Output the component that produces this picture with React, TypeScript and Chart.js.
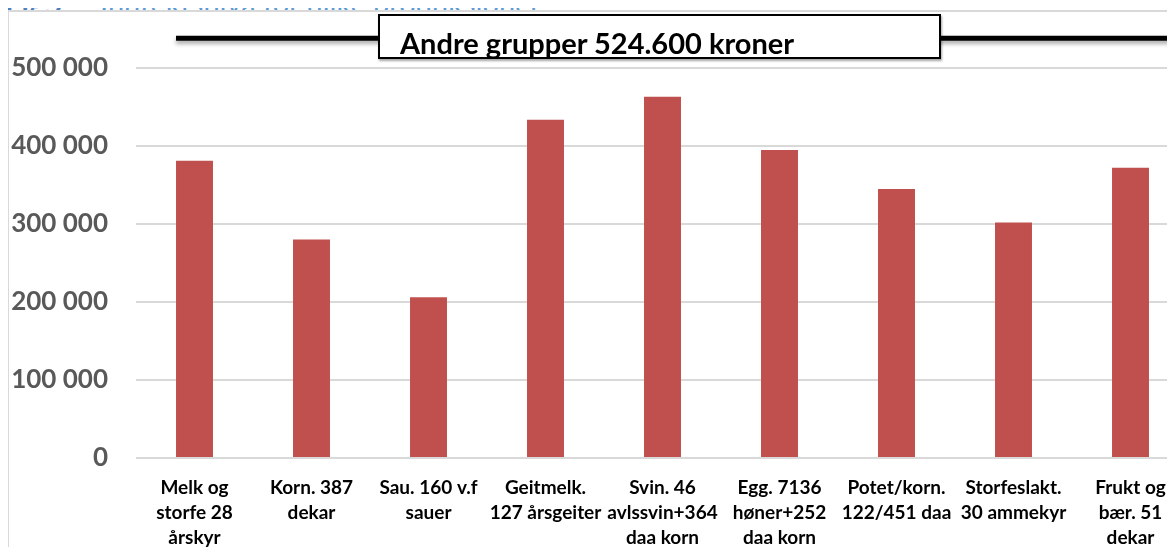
import React, { useEffect, useRef } from "react";
import { Chart, registerables } from "chart.js";

Chart.register(...registerables);

// ---- data ----
const categories: string[][] = [
  ["Melk og", "storfe 28", "årskyr"],
  ["Korn. 387", "dekar"],
  ["Sau. 160 v.f", "sauer"],
  ["Geitmelk.", "127 årsgeiter"],
  ["Svin. 46", "avlssvin+364", "daa korn"],
  ["Egg. 7136", "høner+252", "daa korn"],
  ["Potet/korn.", "122/451 daa"],
  ["Storfeslakt.", "30 ammekyr"],
  ["Frukt og", "bær. 51", "dekar"],
];
const incomes: number[] = [381000, 280000, 206000, 433500, 463000, 395000, 345000, 302000, 372000];
const yTickValues: number[] = [0, 100000, 200000, 300000, 400000, 500000];
const referenceLevel = 538000; // drawn position of the "Andre grupper" line
const referenceLabel = "Andre grupper 524.600 kroner";
const figureNumber = "Fig.7";
const titleText = "Inntektsnivå for ulike produksjoner";

const fmt = (v: number) => String(v).replace(/\B(?=(\d{3})+(?!\d))/g, " ");

const refLinePlugin = {
  id: "refLine",
  afterDatasetsDraw(chart: any) {
    const { ctx, scales } = chart;
    const y = scales.y.getPixelForValue(referenceLevel);
    const first = chart.getDatasetMeta(0).data[0] as any;
    const x0 = first.x - first.width / 2;
    ctx.save();
    ctx.shadowColor = "rgba(0,0,0,0.35)";
    ctx.shadowBlur = 4;
    ctx.shadowOffsetY = 3;
    ctx.strokeStyle = "#000";
    ctx.lineWidth = 5;
    ctx.beginPath();
    ctx.moveTo(x0, y);
    ctx.lineTo(chart.width, y);
    ctx.stroke();
    ctx.restore();
  },
};

export default function App() {
  const ref = useRef<HTMLCanvasElement>(null);
  useEffect(() => {
    if (!ref.current) return;
    const chart = new Chart(ref.current, {
      type: "bar",
      data: {
        labels: categories,
        datasets: [
          {
            data: incomes,
            backgroundColor: "#C0504D",
            barPercentage: 0.316,
            categoryPercentage: 1,
          },
        ],
      },
      options: {
        animation: false,
        responsive: true,
        maintainAspectRatio: false,
        layout: { padding: { top: 68, left: 0, right: 11, bottom: 0 } },
        plugins: { legend: { display: false }, tooltip: { enabled: false }, title: { display: false } },
        scales: {
          x: {
            grid: { display: false },
            border: { display: false },
            ticks: {
              color: "#000",
              font: { family: "Lato", weight: "bold", size: 19, lineHeight: 1.3 },
              padding: 10,
              maxRotation: 0,
              autoSkip: false,
            },
            afterFit: (s: any) => {
              s.height = 89;
            },
          },
          y: {
            min: 0,
            max: 500000,
            afterBuildTicks: (s: any) => {
              s.ticks = yTickValues.map((v) => ({ value: v }));
            },
            grid: { color: "#D9D9D9", lineWidth: 2, drawTicks: false },
            border: { display: false },
            ticks: {
              color: "#595959",
              font: { family: "Lato", weight: "bold", size: 26 },
              padding: 28,
              callback: (v: any) => fmt(Number(v)),
            },
            afterFit: (s: any) => {
              s.width = 136;
            },
          },
        },
      },
      plugins: [refLinePlugin],
    });
    return () => chart.destroy();
  }, []);

  return (
    <div
      style={{
        position: "relative",
        marginTop: -8,
        marginLeft: -8,
        width: 1175,
        height: 547,
        overflow: "hidden",
        background: "#fff",
      }}
    >
      <div
        style={{
          position: "absolute",
          top: -12,
          left: 5,
          fontFamily: "Lato",
          fontSize: 29,
          lineHeight: "29px",
          color: "#5B9BD5",
          whiteSpace: "nowrap",
        }}
      >
        <span style={{ fontWeight: "bold", color: "#4F81BD" }}>{figureNumber}</span>
        <span style={{ position: "absolute", left: 95 }}>{titleText}</span>
      </div>
      <div
        style={{
          position: "absolute",
          left: 7,
          top: 10,
          width: 2000,
          height: 2000,
          borderLeft: "2px solid #D9D9D9",
          borderTop: "2px solid #D9D9D9",
          background: "#fff",
        }}
      />
      <div style={{ position: "absolute", left: 0, top: 0, width: 1200, height: 547 }}>
        <canvas ref={ref} />
      </div>
      <div
        style={{
          position: "absolute",
          left: 378,
          top: 14,
          width: 539,
          height: 32,
          border: "2px solid #000",
          background: "#fff",
          boxShadow: "1px 2px 2px rgba(0,0,0,0.35)",
          fontFamily: "Lato",
          fontWeight: "bold",
          fontSize: 29,
          lineHeight: "normal",
          paddingLeft: 20,
          paddingTop: 9,
          boxSizing: "content-box",
          color: "#000",
          whiteSpace: "nowrap",
          overflow: "hidden",
        }}
      >
        {referenceLabel}
      </div>
    </div>
  );
}
